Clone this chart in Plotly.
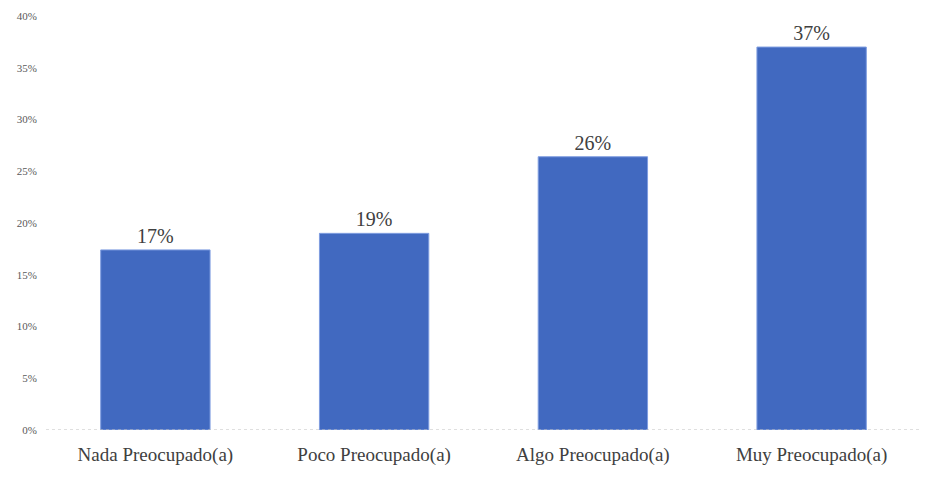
import plotly.graph_objects as go

categories = ["Nada Preocupado(a)", "Poco Preocupado(a)", "Algo Preocupado(a)", "Muy Preocupado(a)"]
values = [17.4, 19.0, 26.4, 37.0]
labels = ["17%", "19%", "26%", "37%"]
tick_vals = [0, 5, 10, 15, 20, 25, 30, 35, 40]
tick_text = ["0%", "5%", "10%", "15%", "20%", "25%", "30%", "35%", "40%"]

SERIF = "Times New Roman, Liberation Serif, DejaVu Serif, serif"

fig = go.Figure(go.Bar(
    x=categories, y=values, text=labels, textposition="outside",
    textfont=dict(family=SERIF, size=20, color="#404040"),
    marker=dict(color="#4169C0", line=dict(color="#7f9de0", width=1)),
    width=0.5, cliponaxis=False,
))
fig.update_layout(
    width=930, height=481, margin=dict(l=38, r=17, t=8, b=59, autoexpand=False),
    plot_bgcolor="white", paper_bgcolor="white", showlegend=False,
    xaxis=dict(tickfont=dict(family=SERIF, size=19, color="#404040"),
               showline=False, ticks="", showgrid=False, automargin=False,
               ticklabelstandoff=11),
    yaxis=dict(range=[0, 40], tickvals=tick_vals, ticktext=tick_text, showgrid=False,
               tickfont=dict(family=SERIF, size=11, color="#595959"),
               zeroline=False, showline=False, ticks="", ticklabelstandoff=8,
               automargin=False),
)
fig.add_shape(type="line", xref="paper", yref="y", x0=0, x1=1, y0=0, y1=0,
              line=dict(color="#bfbfbf", width=1, dash="dot"))
fig.write_html("out.html")
